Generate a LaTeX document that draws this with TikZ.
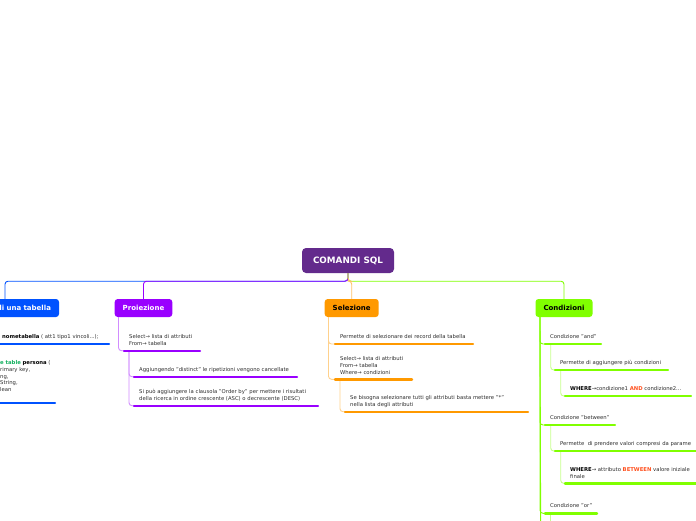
\documentclass[tikz,border=0pt]{standalone}
\usepackage{fontspec}
\setmainfont{DejaVu Sans}
\definecolor{rootc}{RGB}{99,42,140}
\definecolor{blueB}{RGB}{0,82,255}
\definecolor{purpB}{RGB}{153,0,255}
\definecolor{oranB}{RGB}{255,153,0}
\definecolor{limeB}{RGB}{128,255,0}
\definecolor{txtgray}{RGB}{45,45,45}
\definecolor{kwgreen}{RGB}{20,175,95}
\definecolor{kwred}{RGB}{255,80,30}
\tikzset{
  txt/.style={anchor=north west, inner sep=0pt, font=\fontsize{5.3}{6.6}\selectfont, text=txtgray, align=left},
  ul/.style={line width=2.4pt, line cap=round},
  branch/.style={rounded corners=3pt, minimum height=18pt, inner xsep=8pt, inner ysep=0pt, font=\bfseries\fontsize{7}{8}\selectfont},
  conn/.style={line width=0.9pt, rounded corners=3pt},
}
\begin{document}
\begin{tikzpicture}[x=1pt,y=-1pt]
\useasboundingbox (0,0) rectangle (696,520);
\clip (0,0) rectangle (696,520);
% root
\node[rounded corners=4pt, fill=rootc, text=white, minimum width=92pt, minimum height=25pt, font=\bfseries\fontsize{8.8}{10}\selectfont] (root) at (348,260.5) {COMANDI SQL};
% branches
\node[branch, fill=blueB, text=white, text width=92pt, align=right] (crea) at (5,308) {di una tabella};
\node[branch, fill=purpB, text=white, minimum width=57pt] (proj) at (143.5,308) {Proiezione};
\node[branch, fill=oranB, text=black, minimum width=52pt] (sel) at (351.7,308) {Selezione};
\node[branch, fill=limeB, text=black, minimum width=56pt] (cond) at (564,308) {Condizioni};
% root connectors
\draw[conn, blueB] (root.south) -- ++(0,8) -| (crea.north);
\draw[conn, purpB] (root.south) -- ++(0,8) -| (proj.north);
\draw[conn, limeB] (root.south) -- ++(0,8) -| (cond.north);
\draw[conn, oranB!60] (root.south) -- ++(0,8) -| (sel.north);

% ---- Creazione children
\coordinate (c1s) at (-5,344); \coordinate (c1e) at (109,344);
\node[txt] (c1) at (2,334.7) {\textbf{\color{black}nometabella} ( att1 tipo1 vincoli...);};
\draw[ul, blueB] (c1s) -- (c1e);
\coordinate (c2s) at (-5,403); \coordinate (c2e) at (55,403);
\node[txt] (c2) at (0,360.7) {{\color{kwgreen}\textbf{e table}} \textbf{\color{black}persona} (\\rimary key,\\ng,\\String,\\lean};
\draw[ul, blueB] (c2s) -- (c2e);

% ---- Proiezione children
\coordinate (p1s) at (124,350.7); \coordinate (p1e) at (200,350.7);
\node[txt] (p1) at (129,334.4) {Select→ lista di attributi\\From→ tabella};
\coordinate (p2s) at (134,376.7); \coordinate (p2e) at (297,376.7);
\node[txt] (p2) at (139,367.7) {Aggiungendo "distinct" le ripetizioni vengono cancellate};
\coordinate (p3s) at (134,405.7); \coordinate (p3e) at (318,405.7);
\node[txt] (p3) at (139,389.4) {Si può aggiungere la clausola "Order by" per mettere i risultati\\della ricerca in ordine crescente (ASC) o decrescente (DESC)};
\draw[conn, purpB!45] ([xshift=4pt]proj.south west) |- (p1s);
\draw[conn, purpB!45] ([xshift=5pt]p1s) |- (p2s);
\draw[conn, purpB!45] ([xshift=5pt]p1s) |- (p3s);
\draw[ul, purpB] (p1s) -- (p1e);
\draw[ul, purpB] (p2s) -- (p2e);
\draw[ul, purpB] (p3s) -- (p3e);

% ---- Selezione children
\coordinate (s1s) at (335,344); \coordinate (s1e) at (473,344);
\node[txt] (s1) at (340,334.7) {Permette di selezionare dei record della tabella};
\coordinate (s2s) at (335,379.3); \coordinate (s2e) at (412,379.3);
\node[txt] (s2) at (340,356.7) {Select→ lista di attributi\\From→ tabella\\Where→ condizioni};
\coordinate (s3s) at (345,411.7); \coordinate (s3e) at (528,411.7);
\node[txt] (s3) at (350,395.4) {Se bisogna selezionare tutti gli attributi basta mettere "*"\\nella lista degli attributi};
\draw[conn, oranB!45] ([xshift=4pt]sel.south west) |- (s1s);
\draw[conn, oranB!45] ([xshift=4pt]sel.south west) |- (s2s);
\draw[conn, oranB!45] ([xshift=5pt]s2s) |- (s3s);
\draw[ul, oranB] (s1s) -- (s1e);
\draw[ul, oranB] (s2s) -- (s2e);
\draw[ul, oranB] (s3s) -- (s3e);

% ---- Condizioni children
\coordinate (k1s) at (545,344); \coordinate (k1e) at (601,344);
\node[txt] (k1) at (550,334.7) {Condizione "and"};
\coordinate (k11s) at (555,370); \coordinate (k11e) at (668,370);
\node[txt] (k11) at (560,360.4) {Permette di aggiungere più condizioni};
\coordinate (k111s) at (565,396); \coordinate (k111e) at (691,396);
\node[txt] (k111) at (570,386.4) {\textbf{\color{black}WHERE}→condizione1 \textbf{\color{kwred}AND} condizione2...};
\coordinate (k2s) at (545,425); \coordinate (k2e) at (615,425);
\node[txt] (k2) at (550,415.4) {Condizione "between"};
\coordinate (k21s) at (555,451); \coordinate (k21e) at (705,451);
\node[txt] (k21) at (560,441.4) {Permette~ di prendere valori compresi da parame};
\coordinate (k211s) at (565,483.3); \coordinate (k211e) at (705,483.3);
\node[txt] (k211) at (570,467.7) {\textbf{\color{black}WHERE}→ attributo \textbf{\color{kwred}BETWEEN} valore iniziale\\finale};
\coordinate (k3s) at (545,513.3); \coordinate (k3e) at (597,513.3);
\node[txt] (k3) at (550,503.7) {Condizione "or"};
\coordinate (kend) at (540.7,530);
\coordinate (k31end) at (550.7,530);
\draw[conn, limeB] ([xshift=4.7pt]cond.south west) |- (k1s);
\draw[conn, limeB] ([xshift=4.7pt]cond.south west) |- (k2s);
\draw[conn, limeB] ([xshift=4.7pt]cond.south west) |- (k3s);
\draw[conn, limeB] ([xshift=4.7pt]cond.south west) -- (kend);
\draw[conn, limeB!45] ([xshift=5.7pt]k1s) |- (k11s);
\draw[conn, limeB!45] ([xshift=5.7pt]k11s) |- (k111s);
\draw[conn, limeB!45] ([xshift=5.7pt]k2s) |- (k21s);
\draw[conn, limeB!45] ([xshift=5.7pt]k21s) |- (k211s);
\draw[conn, limeB!45] ([xshift=5.7pt]k3s) -- (k31end);
\draw[ul, limeB] (k1s) -- (k1e);
\draw[ul, limeB] (k11s) -- (k11e);
\draw[ul, limeB] (k111s) -- (k111e);
\draw[ul, limeB] (k2s) -- (k2e);
\draw[ul, limeB] (k21s) -- (k21e);
\draw[ul, limeB] (k211s) -- (k211e);
\draw[ul, limeB] (k3s) -- (k3e);
\end{tikzpicture}
\end{document}
